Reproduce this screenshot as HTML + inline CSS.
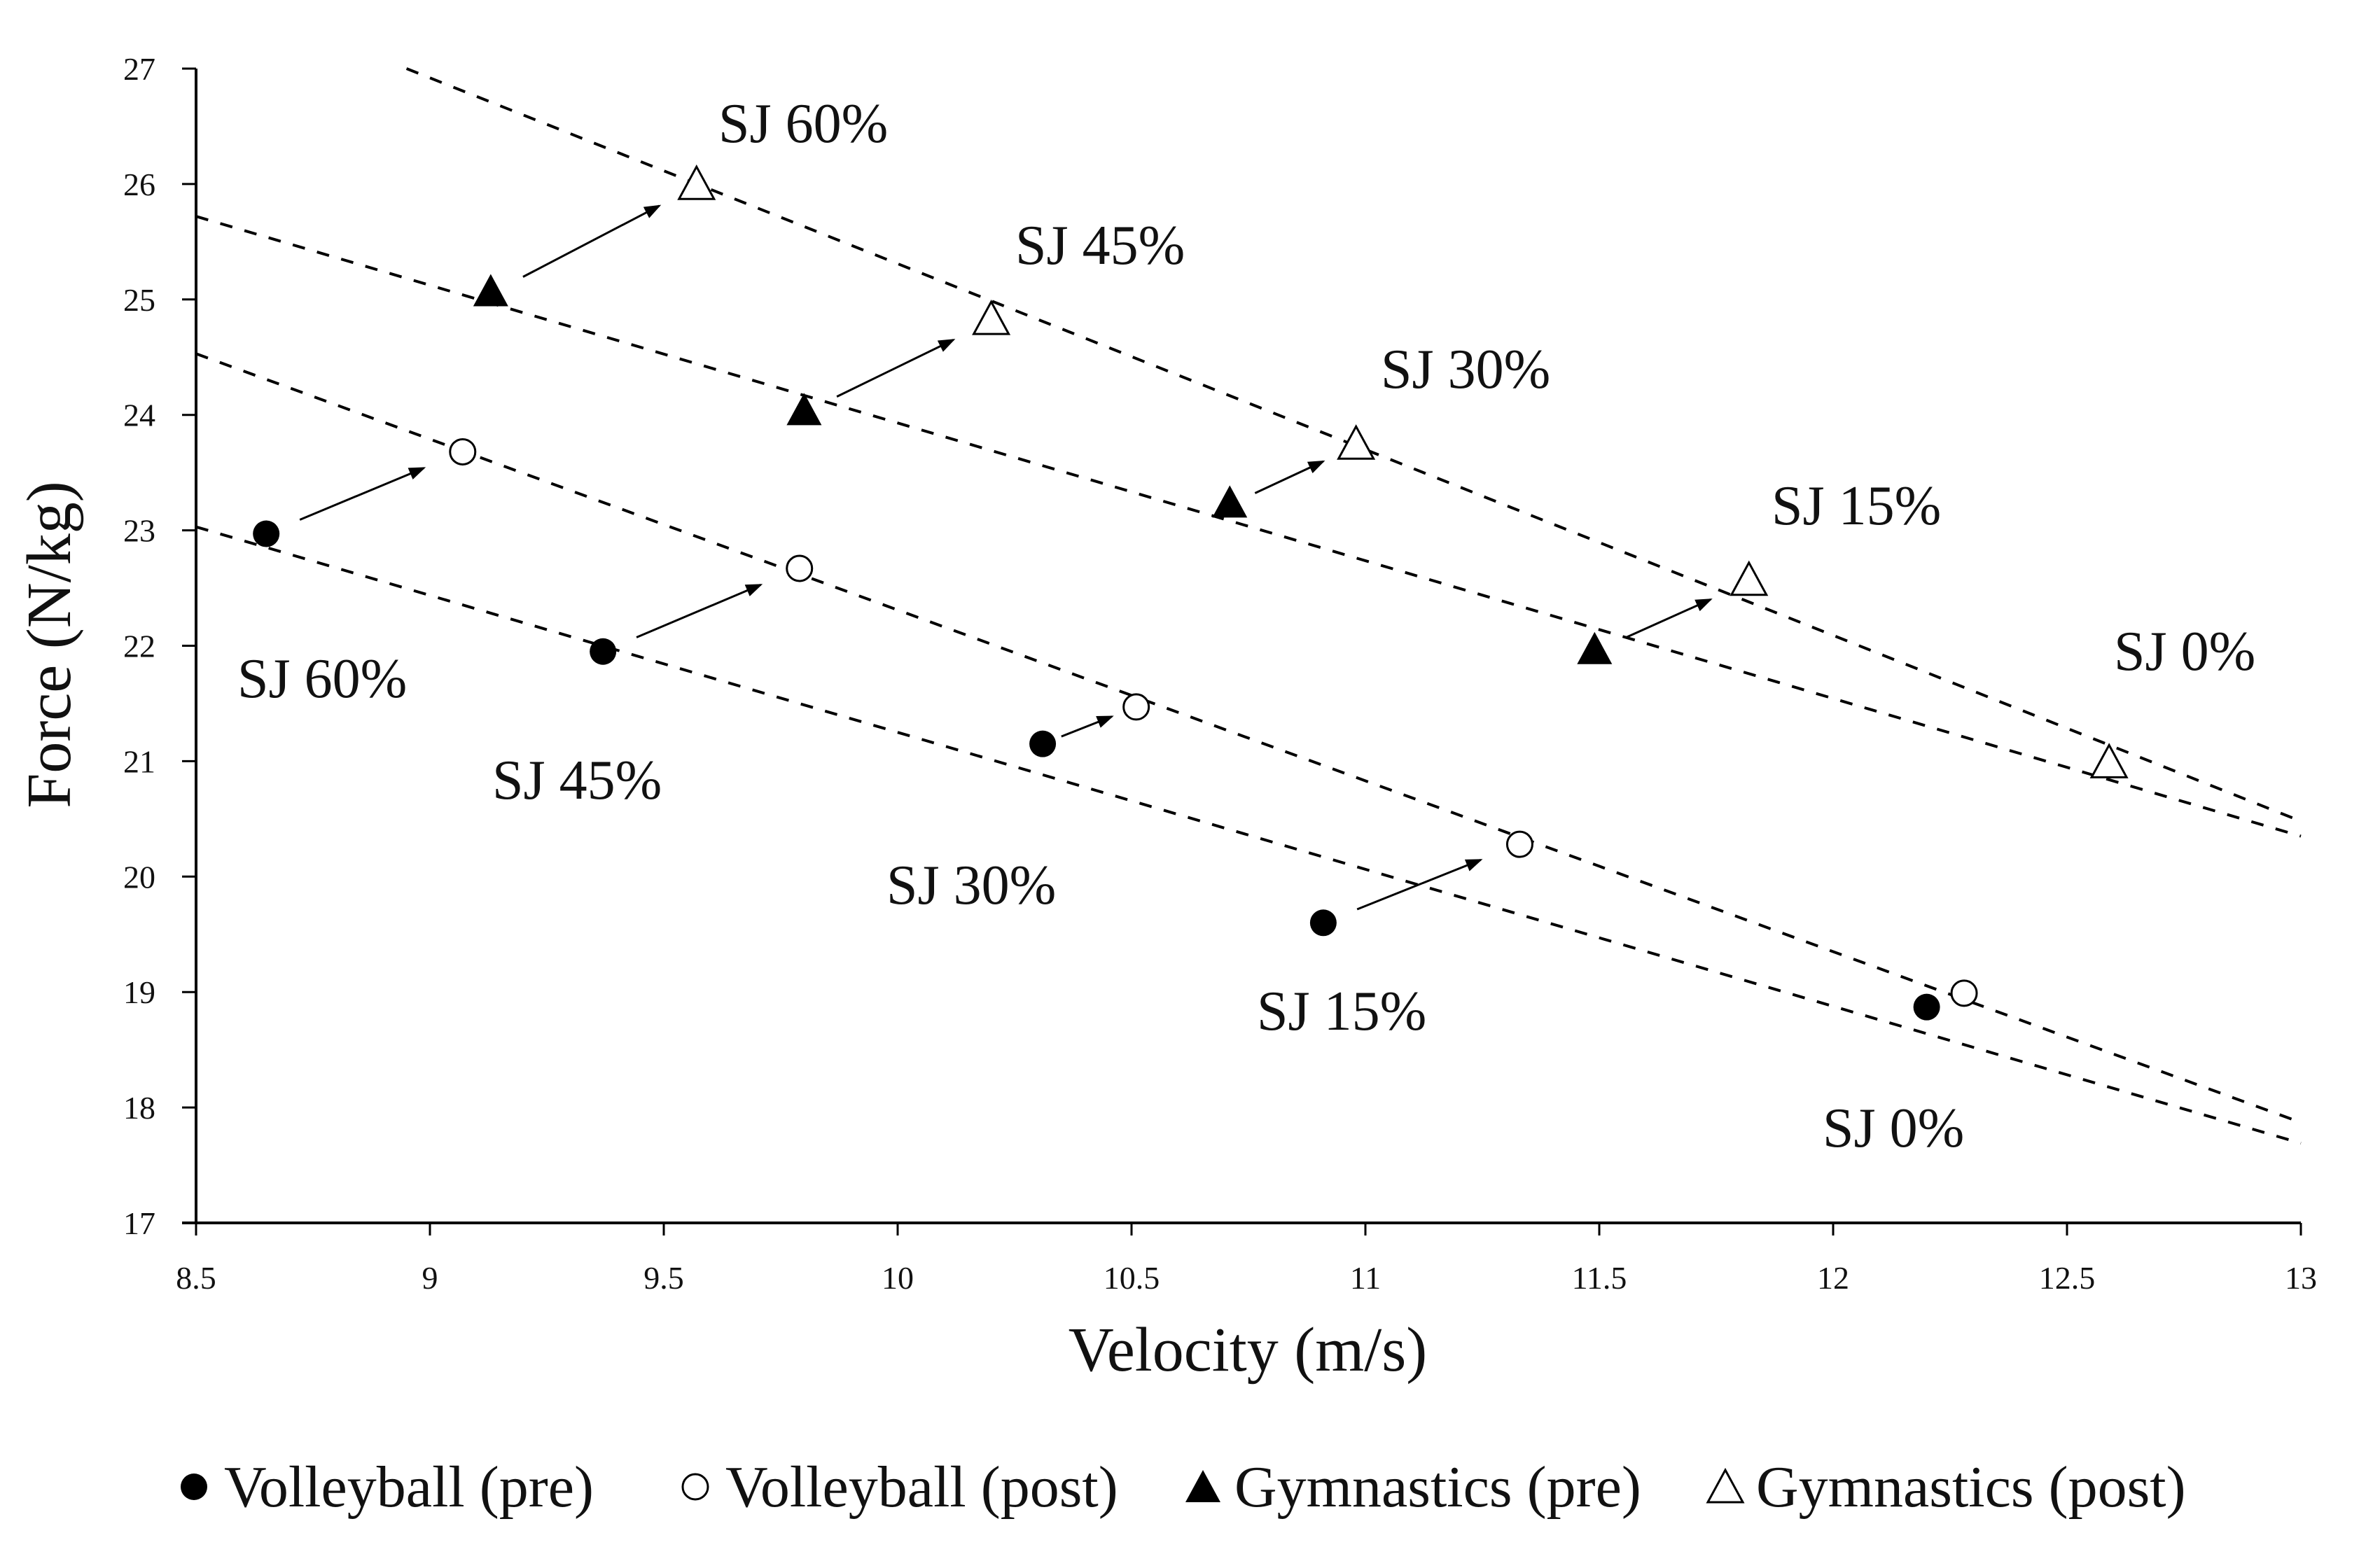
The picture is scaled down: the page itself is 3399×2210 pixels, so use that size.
<!DOCTYPE html>
<html><head><meta charset="utf-8"><style>
html,body{margin:0;padding:0;background:#fff}
svg{display:block}
text{font-family:"Liberation Serif",serif;fill:#111}
</style></head><body>
<svg id="chart" width="3399" height="2210" viewBox="0 0 3399 2210" xmlns="http://www.w3.org/2000/svg">
<defs><marker id="ah" markerWidth="8" markerHeight="6" refX="7" refY="3" orient="auto" markerUnits="strokeWidth"><path d="M0,0 L8,3 L0,6 z" fill="#000"/></marker></defs>
<g id="axes"></g>
<g id="lines"></g>
<g id="arrows"></g>
<g id="marks"></g>
<g id="labels"></g>
<text x="1782" y="1958" font-size="90" text-anchor="middle">Velocity (m/s)</text>
<text transform="translate(100,921) rotate(-90)" font-size="90" text-anchor="middle">Force (N/kg)</text>
<g font-size="84">
 <g><circle cx="277" cy="2124" r="19" fill="#000"/><text x="320" y="2152">Volleyball (pre)</text></g>
 <g><circle cx="993" cy="2124" r="18" fill="#fff" stroke="#000" stroke-width="3"/><text x="1036" y="2152">Volleyball (post)</text></g>
 <g><path d="M1718,2100 L1743,2146 L1693,2146 Z" fill="#000"/><text x="1763" y="2152">Gymnastics (pre)</text></g>
 <g><path d="M2464,2100 L2489,2146 L2439,2146 Z" fill="#fff" stroke="#000" stroke-width="3"/><text x="2508" y="2152">Gymnastics (post)</text></g>
</g>
</svg>
<script>
const xTicks=[8.5,9,9.5,10,10.5,11,11.5,12,12.5,13];
const yTicks=[17,18,19,20,21,22,23,24,25,26,27];
const vbPreX=[8.65,9.37,10.31,10.91,12.2];
const vbPreY=[22.97,21.95,21.15,19.6,18.87];
const vbPostX=[9.07,9.79,10.51,11.33,12.28];
const vbPostY=[23.68,22.67,21.47,20.28,18.99];
const gyPreX=[9.13,9.80,10.71,11.49,12.59];
const gyPreY=[25.05,24.02,23.22,21.95,20.97];
const gyPostX=[9.57,10.2,10.98,11.82,12.59];
const gyPostY=[25.98,24.81,23.73,22.55,20.97];
const lineX1=[8.95,8.5,8.5,8.5];
const lineY1=[27,25.72,24.53,23.03];
const lineX2=[13,13,13,13];
const lineY2=[20.48,20.35,17.87,17.69];
const NS="http://www.w3.org/2000/svg";
const X0=280,X1=3286,Y0=1747,Y1=98;
const sx=v=>X0+(v-8.5)/4.5*(X1-X0);
const sy=v=>Y0-(v-17)/10*(Y0-Y1);
function mk(tag,attrs,parent){const e=document.createElementNS(NS,tag);for(const k in attrs)e.setAttribute(k,attrs[k]);parent.appendChild(e);return e;}
const axes=document.getElementById('axes');
let a=mk('line',{x1:X0,y1:Y1,x2:X0,y2:Y0,stroke:'#000','stroke-width':4},axes);


a=mk('line',{x1:X0-20,y1:Y0,x2:X1,y2:Y0,stroke:'#000','stroke-width':4},axes);


xTicks.forEach(v=>{
 const t=mk('line',{x1:sx(v),y1:Y0,x2:sx(v),y2:Y0+18,stroke:'#000','stroke-width':3},axes);
 
 
 const l=mk('text',{x:sx(v),y:Y0+94,'font-size':46,'text-anchor':'middle'},axes);l.textContent=v;
 
 
});
yTicks.forEach(v=>{
 const t=mk('line',{x1:X0-20,y1:sy(v),x2:X0,y2:sy(v),stroke:'#000','stroke-width':3},axes);
 
 
 const l=mk('text',{x:X0-58,y:sy(v)+16,'font-size':46,'text-anchor':'end'},axes);l.textContent=v;
 
 
});
const lines=document.getElementById('lines');
lineX1.forEach((v,i)=>{
 const l=mk('line',{x1:sx(v),y1:sy(lineY1[i]),x2:sx(lineX2[i]),y2:sy(lineY2[i]),stroke:'#000','stroke-width':4,'stroke-dasharray':'18 18'},lines);
 
 
});
const arrows=document.getElementById('arrows');
function arrowSet(px,py,qx,qy){
 px.forEach((v,i)=>{
  const x1=sx(v),y1=sy(py[i]),x2=sx(qx[i]),y2=sy(qy[i]);
  const dx=x2-x1,dy=y2-y1,d=Math.hypot(dx,dy);
  if(d<120)return;
  const ux=dx/d,uy=dy/d;
  const s=Math.min(52,d*0.2),e=Math.min(60,d*0.26);
  const l=mk('line',{x1:x1+ux*s,y1:y1+uy*s,x2:x2-ux*e,y2:y2-uy*e,stroke:'#000','stroke-width':3,'marker-end':'url(#ah)'},arrows);
  
  
 });
}
arrowSet(vbPreX,vbPreY,vbPostX,vbPostY);
arrowSet(gyPreX,gyPreY,gyPostX,gyPostY);
const marks=document.getElementById('marks');
function tri(x,y){return `M${x},${y-28} L${x+25},${y+18} L${x-25},${y+18} Z`;}
vbPostX.forEach((v,i)=>{const c=mk('circle',{cx:sx(v),cy:sy(vbPostY[i]),r:18,fill:'#fff',stroke:'#000','stroke-width':3},marks);
 
 });
vbPreX.forEach((v,i)=>{const c=mk('circle',{cx:sx(v),cy:sy(vbPreY[i]),r:19,fill:'#000'},marks);
 
 });
gyPostX.forEach((v,i)=>{const c=mk('path',{d:tri(sx(v),sy(gyPostY[i])),fill:'#fff',stroke:'#000','stroke-width':3},marks);
 
 });
gyPreX.forEach((v,i)=>{if(i===4)return;const c=mk('path',{d:tri(sx(v),sy(gyPreY[i])),fill:'#000'},marks);
 
 });
const labTxt=['SJ 60%','SJ 45%','SJ 30%','SJ 15%','SJ 0%','SJ 60%','SJ 45%','SJ 30%','SJ 15%','SJ 0%'];
const labPos=[[1026,176],[1450,350],[1972,527],[2530,722],[3019,930],[339,969],[703,1114],[1266,1264],[1795,1444],[2603,1611]];
const labels=document.getElementById('labels');
labTxt.forEach((t,i)=>{const l=mk('text',{x:labPos[i][0],y:labPos[i][1]+27,'font-size':80},labels);l.textContent=t;
 
 });
</script>
</body></html>
